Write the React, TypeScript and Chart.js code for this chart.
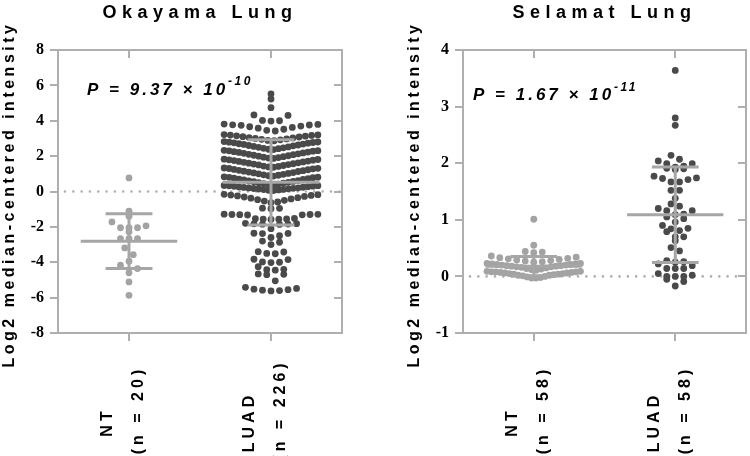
import React, { useEffect, useRef } from 'react';
import { Chart, registerables } from 'chart.js';

Chart.register(...registerables);

// ---------------- data ----------------
const categories = ['NT', 'LUAD'];
const okayamaCounts = [20, 226];
const selamatCounts = [58, 58];

const okayamaNT = [
  0.77, -1.11, -1.4, -1.72, -1.94, -2.05, -2.05, -2.05, -2.28, -2.66,
  -2.66, -2.66, -3.19, -3.57, -3.94, -4.17, -4.36, -4.6, -5.11, -5.87,
];

const okayamaLUAD = [
  5.52, 5.23, 4.74, 4.33, 4.3, 4.02, 4.0, 3.98,
  3.81, 3.79, 3.77, 3.76, 3.74, 3.7, 3.66, 3.62, 3.58, 3.52, 3.46, 3.42,
  3.22, 3.2, 3.19, 3.17, 3.15, 3.13, 3.1, 3.08, 3.05, 3.03, 3.0, 2.97, 2.95, 2.92, 2.89, 2.87,
  2.82, 2.8, 2.79, 2.77, 2.75, 2.73, 2.7, 2.68, 2.66, 2.63, 2.6, 2.58, 2.55, 2.52, 2.5, 2.47, 2.44, 2.42, 2.39, 2.37,
  2.33, 2.31, 2.3, 2.28, 2.25, 2.23, 2.21, 2.18, 2.16, 2.13, 2.1, 2.08, 2.05, 2.02, 2.0, 1.97, 1.94, 1.92, 1.89, 1.87,
  1.83, 1.81, 1.79, 1.77, 1.75, 1.72, 1.7, 1.67, 1.65, 1.62, 1.6, 1.57, 1.55, 1.52, 1.5, 1.47, 1.44, 1.42, 1.39, 1.37,
  1.33, 1.31, 1.3, 1.28, 1.25, 1.23, 1.2, 1.18, 1.15, 1.13, 1.1, 1.07, 1.05, 1.02, 1.0, 0.97, 0.94, 0.92, 0.89, 0.87,
  0.83, 0.81, 0.8, 0.78, 0.75, 0.73, 0.7, 0.68, 0.65, 0.62, 0.6, 0.57, 0.55, 0.52, 0.5, 0.47, 0.44, 0.42, 0.39, 0.37,
  0.34, 0.33, 0.32, 0.3, 0.29, 0.27, 0.26, 0.24, 0.23, 0.21, 0.2, 0.18, 0.17, 0.15, 0.14, 0.12, 0.11, 0.09, 0.07, 0.05,
  -0.16, -0.18, -0.2, -0.22, -0.25, -0.28, -0.31, -0.35, -0.38, -0.42, -0.46, -0.5, -0.54, -0.59, -0.63,
  -0.94, -0.95, -0.97,
  -1.28, -1.29, -1.3, -1.3, -1.31, -1.32, -1.33, -1.52, -1.54, -1.55, -1.56, -1.57, -1.58,
  -1.8, -1.82, -1.83, -1.84, -1.85, -1.86, -2.1,
  -2.36, -2.37, -2.38, -2.5, -2.6,
  -2.8, -2.87, -3.0,
  -3.4, -3.42, -3.5, -3.52,
  -3.83, -3.85, -3.98, -4.0, -4.02,
  -4.25, -4.4, -4.42, -4.45,
  -4.66, -4.68, -4.7, -5.05,
  -5.42, -5.48, -5.52, -5.55, -5.58, -5.6, -5.62,
];

const okayamaMean = [-2.81, 0.52];
const okayamaSD = [1.55, 2.41];

const selamatNT = [
  1.01, 0.55, 0.44, 0.43, 0.42,
  0.36, 0.34, 0.33, 0.32, 0.31, 0.3, 0.29, 0.28, 0.27, 0.26, 0.25,
  0.23, 0.23, 0.22, 0.22, 0.21, 0.21, 0.2, 0.2, 0.19, 0.19, 0.18, 0.18, 0.17, 0.17, 0.16, 0.15, 0.14, 0.13, 0.12, 0.11,
  0.09, 0.09, 0.08, 0.08, 0.08, 0.07, 0.07, 0.06, 0.06, 0.05, 0.05, 0.04, 0.04, 0.03, 0.02, 0.02, 0.01, 0.0, -0.01, -0.02, -0.03, -0.03,
];

const selamatLUAD = [
  3.64, 2.8, 2.67, 2.14, 2.07, 2.04, 1.99, 1.99, 1.95, 1.93, 1.91, 1.9, 1.89,
  1.77, 1.74, 1.73, 1.71, 1.67, 1.67, 1.52, 1.52, 1.38, 1.28, 1.24, 1.2, 1.16, 1.16,
  1.1, 1.09, 1.05, 1.02, 0.96, 0.9, 0.85, 0.84, 0.81, 0.79, 0.7, 0.7, 0.63, 0.51, 0.45,
  0.28, 0.26, 0.25, 0.22, 0.19, 0.14, 0.14, 0.14, 0.05, 0.02, 0.0, 0.0, 0.0, -0.05, -0.09, -0.17,
];

const selamatMean = [0.18, 1.09];
const selamatSD = [0.17, 0.845];

const okayamaYRange = [-8, 8];
const okayamaYStep = 2;
const selamatYRange = [-1, 4];
const selamatYStep = 1;

const okayamaP = ['9.37', '-10'];
const selamatP = ['1.67', '-11'];

// ---------------- layout constants ----------------
const CENTERS = [0.5, 1.5];
const DOT_STEP = 0.06;
const MAX_HALF = 0.33;
const NT_COLOR = '#a3a3a3';
const LUAD_COLOR = '#4a4a4a';
const BAR_COLOR = '#a6a6a6';
const AXIS_COLOR = '#afafaf';
const SANS = '"Liberation Sans", Arial, sans-serif';
const SERIF = '"Liberation Serif", "Times New Roman", serif';

function swarm(values: number[], center: number, binSize: number, origin: number) {
  const bins = new Map<number, number[]>();
  values.forEach((v) => {
    const k = Math.floor((v - origin) / binSize + 1e-9);
    if (!bins.has(k)) bins.set(k, []);
    bins.get(k)!.push(v);
  });
  const pts: { x: number; y: number }[] = [];
  bins.forEach((arr) => {
    arr.sort((a, b) => a - b);
    const n = arr.length;
    const step = n > 1 ? Math.min(DOT_STEP, (2 * MAX_HALF) / (n - 1)) : 0;
    arr.forEach((v, i) => {
      let slot: number;
      if (n % 2 === 1) slot = i === 0 ? 0 : i % 2 === 1 ? (i + 1) / 2 : -i / 2;
      else slot = (i % 2 === 0 ? 1 : -1) * (Math.floor(i / 2) + 0.5);
      pts.push({ x: center + slot * step, y: v });
    });
  });
  return pts;
}

interface PanelCfg {
  title: string;
  nt: number[];
  luad: number[];
  counts: number[];
  means: number[];
  sds: number[];
  yRange: number[];
  yStep: number;
  binSize: number;
  binOrigin: number;
  p: string[];
  yAxisWidth: number;
  padRight: number;
  pX: number;
  pY: number;
  supDY: number;
  yTitleX: number;
}

function spaced(ctx: CanvasRenderingContext2D, s: string) {
  (ctx as any).letterSpacing = s;
}

function Panel({ cfg }: { cfg: PanelCfg }) {
  const ref = useRef<HTMLCanvasElement>(null);
  useEffect(() => {
    const canvas = ref.current!;
    const deco = {
      id: 'deco',
      beforeDatasetsDraw(chart: any) {
        const { ctx, chartArea: a, scales } = chart;
        const y0 = scales.y.getPixelForValue(0);
        ctx.save();
        ctx.strokeStyle = AXIS_COLOR;
        ctx.lineWidth = 2.6;
        ctx.lineCap = 'round';
        ctx.setLineDash([0.01, 8.3]);
        ctx.beginPath();
        ctx.moveTo(a.left + 7, y0);
        ctx.lineTo(a.right - 2, y0);
        ctx.stroke();
        ctx.restore();
      },
      afterDatasetsDraw(chart: any) {
        const { ctx, scales } = chart;
        const { x, y } = scales;
        ctx.save();
        ctx.strokeStyle = BAR_COLOR;
        ctx.lineWidth = 3;
        CENTERS.forEach((c, i) => {
          const m = cfg.means[i];
          const sd = cfg.sds[i];
          const seg = (x1: number, y1: number, x2: number, y2: number) => {
            ctx.beginPath();
            ctx.moveTo(x.getPixelForValue(x1), y.getPixelForValue(y1));
            ctx.lineTo(x.getPixelForValue(x2), y.getPixelForValue(y2));
            ctx.stroke();
          };
          seg(c - 0.34, m, c + 0.34, m);
          seg(c, m - sd, c, m + sd);
          seg(c - 0.165, m + sd, c + 0.165, m + sd);
          seg(c - 0.165, m - sd, c + 0.165, m - sd);
        });
        ctx.restore();
      },
      afterDraw(chart: any) {
        const { ctx, chartArea: a, scales } = chart;
        const { x, y } = scales;
        ctx.save();
        // frame
        ctx.strokeStyle = AXIS_COLOR;
        ctx.lineWidth = 2;
        ctx.strokeRect(a.left, a.top, a.right - a.left, a.bottom - a.top);
        // y ticks
        y.ticks.forEach((t: any) => {
          const py = Math.round(y.getPixelForValue(t.value));
          ctx.beginPath();
          ctx.moveTo(a.left - 8, py);
          ctx.lineTo(a.left, py);
          ctx.moveTo(a.right - 8, py);
          ctx.lineTo(a.right, py);
          ctx.stroke();
        });
        CENTERS.forEach((c) => {
          const px = Math.round(x.getPixelForValue(c));
          ctx.beginPath();
          ctx.moveTo(px, a.bottom);
          ctx.lineTo(px, a.bottom + 8);
          ctx.moveTo(px, a.top);
          ctx.lineTo(px, a.top + 8);
          ctx.stroke();
        });
        ctx.fillStyle = '#000';
        // title
        ctx.font = `bold 18px ${SANS}`;
        spaced(ctx, '5.5px');
        ctx.textAlign = 'center';
        ctx.textBaseline = 'alphabetic';
        ctx.fillText(cfg.title, (a.left + a.right) / 2, 18);
        // y title
        ctx.save();
        ctx.translate(cfg.yTitleX, (a.top + a.bottom) / 2 + 3);
        ctx.rotate(-Math.PI / 2);
        ctx.font = `bold 16px ${SANS}`;
        spaced(ctx, '3.5px');
        ctx.textAlign = 'center';
        ctx.textBaseline = 'middle';
        ctx.fillText('Log2 median-centered intensity', 0, 0);
        ctx.restore();
        // category labels
        CENTERS.forEach((c, i) => {
          const px = x.getPixelForValue(c);
          const lines = [categories[i], `(n = ${cfg.counts[i]})`];
          const offs = [-21, 10];
          const centersY = [422, 410];
          lines.forEach((ln, j) => {
            ctx.save();
            ctx.translate(px + offs[j], centersY[j]);
            ctx.rotate(-Math.PI / 2);
            ctx.font = `bold 16px ${SANS}`;
            spaced(ctx, '4px');
            ctx.textAlign = 'center';
            ctx.textBaseline = 'middle';
            ctx.fillText(ln, 0, 0);
            ctx.restore();
          });
        });
        // P value
        ctx.textAlign = 'left';
        ctx.textBaseline = 'alphabetic';
        ctx.font = `italic bold 17px ${SANS}`;
        spaced(ctx, '3px');
        const main = `P = ${cfg.p[0]} \u00d7 10`;
        ctx.fillText(main, cfg.pX, cfg.pY);
        const w = ctx.measureText(main).width;
        ctx.font = `italic bold 12px ${SANS}`;
        spaced(ctx, '2.5px');
        ctx.fillText(cfg.p[1], cfg.pX + w, cfg.pY - cfg.supDY);
        ctx.restore();
      },
    };

    const chart = new Chart(canvas, {
      type: 'scatter',
      data: {
        datasets: [
          {
            data: swarm(cfg.nt, CENTERS[0], cfg.binSize, cfg.binOrigin),
            backgroundColor: NT_COLOR,
            borderWidth: 0,
            pointRadius: 3.4,
          },
          {
            data: swarm(cfg.luad, CENTERS[1], cfg.binSize, cfg.binOrigin),
            backgroundColor: LUAD_COLOR,
            borderWidth: 0,
            pointRadius: 3.4,
          },
        ],
      },
      options: {
        responsive: false,
        animation: false,
        devicePixelRatio: 1,
        layout: { padding: { left: 0, right: cfg.padRight, top: 50, bottom: 0 } },
        plugins: { legend: { display: false }, tooltip: { enabled: false }, title: { display: false } },
        scales: {
          x: {
            type: 'linear',
            min: 0,
            max: 2,
            grid: { display: false, drawTicks: false },
            border: { display: false },
            ticks: { display: false },
            afterFit: (s: any) => {
              s.height = 123;
            },
          },
          y: {
            type: 'linear',
            min: cfg.yRange[0],
            max: cfg.yRange[1],
            grid: { display: false, drawTicks: false },
            border: { display: false },
            ticks: {
              stepSize: cfg.yStep,
              color: '#000',
              padding: 14,
              font: { family: SERIF, weight: 'bold', size: 16 },
            },
            afterFit: (s: any) => {
              s.width = cfg.yAxisWidth;
            },
          },
        },
      } as any,
      plugins: [deco],
    });
    return () => chart.destroy();
  }, [cfg]);
  return <canvas ref={ref} width={375} height={456} style={{ display: 'block', width: 375, height: 456 }} />;
}

const okayamaCfg: PanelCfg = {
  title: 'Okayama Lung',
  nt: okayamaNT,
  luad: okayamaLUAD,
  counts: okayamaCounts,
  means: okayamaMean,
  sds: okayamaSD,
  yRange: okayamaYRange,
  yStep: okayamaYStep,
  binSize: 0.5,
  binOrigin: -0.15,
  p: okayamaP,
  yAxisWidth: 58,
  padRight: 33,
  pX: 87,
  pY: 95,
  supDY: 10,
  yTitleX: 10,
};

const selamatCfg: PanelCfg = {
  title: 'Selamat Lung',
  nt: selamatNT,
  luad: selamatLUAD,
  counts: selamatCounts,
  means: selamatMean,
  sds: selamatSD,
  yRange: selamatYRange,
  yStep: selamatYStep,
  binSize: 0.14,
  binOrigin: -0.04,
  p: selamatP,
  yAxisWidth: 88,
  padRight: 3,
  pX: 98,
  pY: 100,
  supDY: 9,
  yTitleX: 40,
};

export default function App() {
  return (
    <div style={{ position: 'fixed', left: 0, top: 0, width: 750, height: 456, display: 'flex', background: '#fff' }}>
      <Panel cfg={okayamaCfg} />
      <Panel cfg={selamatCfg} />
    </div>
  );
}
